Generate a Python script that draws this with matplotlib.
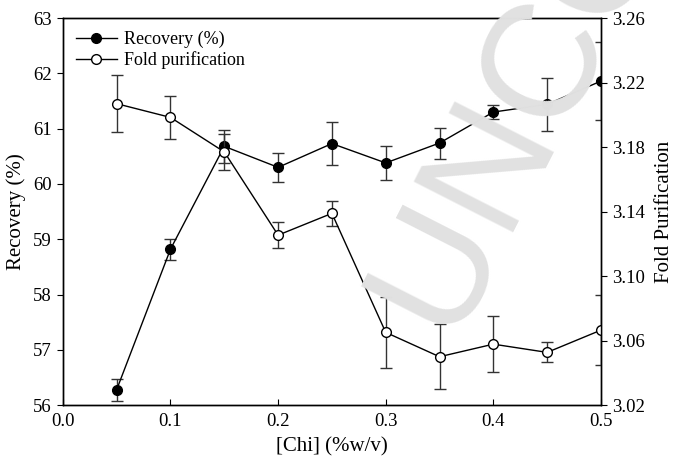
import matplotlib
matplotlib.use("Agg")
import matplotlib.pyplot as plt

# concentration of chitosan (%w/v)
chi = [0.05, 0.10, 0.15, 0.20, 0.25, 0.30, 0.35, 0.40, 0.45, 0.50]

recovery = [56.28, 58.82, 60.68, 60.30, 60.73, 60.38, 60.74, 61.30, 61.44, 61.86]
recovery_err = [0.20, 0.19, 0.30, 0.26, 0.39, 0.30, 0.28, 0.13, 0.48, 0.70]

fold = [3.2069, 3.1984, 3.1770, 3.1254, 3.1389, 3.0651, 3.0500, 3.0578, 3.0527, 3.0665]
fold_err = [0.0178, 0.0132, 0.0110, 0.0081, 0.0079, 0.0222, 0.0203, 0.0175, 0.0062, 0.0218]

left_ticks = [56, 57, 58, 59, 60, 61, 62, 63]
right_ticks = [3.02, 3.06, 3.10, 3.14, 3.18, 3.22, 3.26]
x_ticks = [0.0, 0.1, 0.2, 0.3, 0.4, 0.5]

plt.rcParams["font.family"] = ["Liberation Serif", "DejaVu Serif"]

fig = plt.figure(figsize=(6.76, 4.63), dpi=100)
ax = fig.add_axes([0.093, 0.125, 0.796, 0.836])
ax2 = ax.twinx()

# faint proof watermark behind the data
fig.text(0.618, 0.292, "UNCORRECTED PROOF", rotation=63, fontsize=116,
         family="Liberation Sans", color="#e1e1e1", ha="left", va="center",
         rotation_mode="anchor", zorder=0, clip_on=True)
ax.patch.set_visible(False)
ax2.patch.set_visible(False)

l1 = ax.errorbar(chi, recovery, yerr=recovery_err, fmt="-o", color="black",
                 ecolor="#333333", elinewidth=1.0, capsize=4.5, capthick=1.0,
                 markersize=7, linewidth=1.0, label="Recovery (%)")
l2 = ax2.errorbar(chi, fold, yerr=fold_err, fmt="-o", color="black",
                  markerfacecolor="white", markeredgecolor="black",
                  ecolor="#333333", elinewidth=1.0, capsize=4.5, capthick=1.0,
                  markersize=7, linewidth=1.0, label="Fold purification")

ax.set_xlim(0.0, 0.5)
ax.set_ylim(56, 63)
ax2.set_ylim(3.02, 3.26)
ax.set_xticks(x_ticks)
ax.set_xticklabels([f"{v:.1f}" for v in x_ticks])
ax.set_yticks(left_ticks)
ax2.set_yticks(right_ticks)
ax2.set_yticklabels([f"{v:.2f}" for v in right_ticks])

ax.tick_params(axis="x", direction="in", length=4, labelsize=13.5, pad=6)
ax.tick_params(axis="y", direction="out", length=4, labelsize=13.5, pad=4)
ax2.tick_params(axis="y", direction="out", length=4, labelsize=13.5, pad=4)

ax.set_xlabel("[Chi] (%w/v)", fontsize=15, labelpad=5)
ax.set_ylabel("Recovery (%)", fontsize=15, labelpad=5)
ax2.set_ylabel("Fold Purification", fontsize=15, labelpad=7)

for a in (ax, ax2):
    for s in a.spines.values():
        s.set_linewidth(1.0)

handles = [l1[0], l2[0]]
ax.legend(handles, ["Recovery (%)", "Fold purification"], loc="upper left",
          frameon=False, fontsize=13, handlelength=2.3, borderaxespad=0.3,
          labelspacing=0.2, handletextpad=0.4)

fig.savefig("out.png", dpi=100)
